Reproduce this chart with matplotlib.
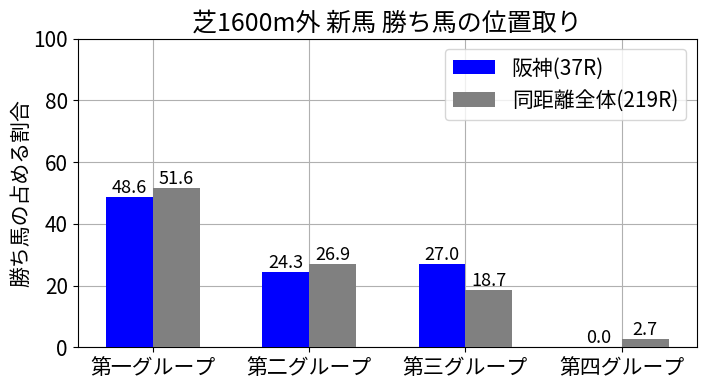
import matplotlib
matplotlib.use("Agg")
import matplotlib.pyplot as plt
import numpy as np

plt.rcParams['font.family'] = ['Noto Sans CJK JP', 'DejaVu Sans']

categories = ["第一グループ", "第二グループ", "第三グループ", "第四グループ"]
hanshin = [48.6, 24.3, 27.0, 0.0]
overall = [51.6, 26.9, 18.7, 2.7]
labels = ["阪神(37R)", "同距離全体(219R)"]

fig, ax = plt.subplots(figsize=(7.06, 3.86), dpi=100)
x = np.arange(len(categories))
w = 0.3
b1 = ax.bar(x - w/2, hanshin, w, color="blue", label=labels[0], zorder=3)
b2 = ax.bar(x + w/2, overall, w, color="gray", label=labels[1], zorder=3)
for bars, vals in ((b1, hanshin), (b2, overall)):
    for r, v in zip(bars, vals):
        ax.text(r.get_x() + r.get_width()/2, v, f"{v:.1f}", ha="center", va="bottom",
                fontsize=13, linespacing=1.0)
ax.set_xticks(x)
ax.set_xticklabels(categories, fontsize=15)
ax.set_ylim(0, 100)
ax.tick_params(axis='y', labelsize=15)
ax.set_ylabel("勝ち馬の占める割合", fontsize=15, labelpad=1)
ax.set_title("芝1600m外 新馬 勝ち馬の位置取り", fontsize=18)
ax.grid(True, zorder=0)
ax.legend(fontsize=15, loc="upper right")
fig.subplots_adjust(left=0.11, right=0.987, top=0.90, bottom=0.10)
fig.savefig("out.png", dpi=100)
